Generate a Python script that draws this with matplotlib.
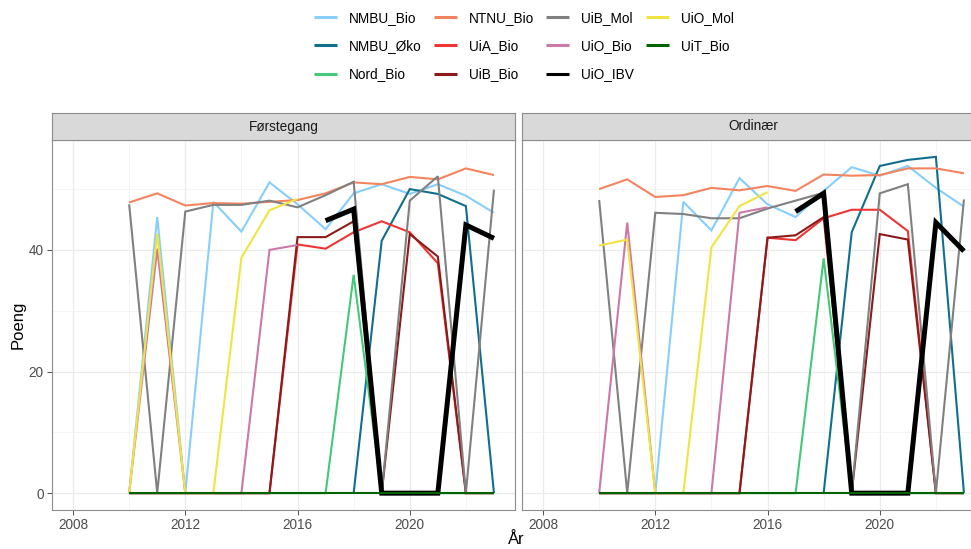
import numpy as np
import matplotlib
matplotlib.use("Agg")
import matplotlib.pyplot as plt

plt.rcParams['font.family'] = ['Liberation Sans', 'DejaVu Sans']

nan = np.nan
years = list(range(2010, 2024))
facets = ["Førstegang", "Ordinær"]
programs = ["NMBU_Bio", "NMBU_Øko", "Nord_Bio", "NTNU_Bio", "UiA_Bio", "UiB_Bio",
            "UiB_Mol", "UiO_Bio", "UiO_IBV", "UiO_Mol", "UiT_Bio"]
colors = ["#87CEFA", "#106F8C", "#43C979", "#F4845F", "#EF3434", "#8B1A1A",
          "#808080", "#CC79A7", "#000000", "#F0E442", "#006400"]

# Førstegang
f_nmbu_bio = [0, 45.4, 0, 47.9, 43.0, 51.1, 47.5, 43.4, 49.3, 50.8, 49.2, 50.8, 48.9, 46.1]
f_nmbu_oko = [nan] * 8 + [0, 41.5, 50.0, 49.2, 47.2, 0]
f_nord_bio = [0] * 8 + [35.9] + [0] * 5
f_ntnu_bio = [47.8, 49.3, 47.3, 47.7, 47.6, 47.9, 48.2, 49.3, 51.1, 50.8, 52.0, 51.6, 53.4, 52.3]
f_uia_bio = [0] * 6 + [40.9, 40.2, 42.9, 44.7, 42.9, 37.8, 0, 0]
f_uib_bio = [0] * 6 + [42.1, 42.1, 44.7, 0, 42.6, 38.9, 0, 0]
f_uib_mol = [47.5, 0, 46.3, 47.4, 47.4, 48.1, 47.0, 49.0, 51.2, 0, 48.1, 52.1, 0, 49.9]
f_uio_bio = [0, 40.2, 0, 0, 0, 40.0, 40.8] + [nan] * 7
f_uio_ibv = [nan] * 7 + [44.8, 46.7, 0, 0, 0, 44.1, 41.9]
f_uio_mol = [0, 42.7, 0, 0, 38.7, 46.5, 48.4] + [nan] * 7
f_uit_bio = [0] * 14

# Ordinær
o_nmbu_bio = [0, 0, 0, 47.9, 43.2, 51.8, 47.5, 45.4, 49.7, 53.6, 52.2, 53.8, 50.2, 47.1]
o_nmbu_oko = [nan] * 8 + [0, 42.9, 53.8, 54.8, 55.3, 0]
o_nord_bio = [0] * 8 + [38.6] + [0] * 5
o_ntnu_bio = [50.0, 51.6, 48.7, 49.0, 50.2, 49.8, 50.5, 49.7, 52.4, 52.2, 52.3, 53.4, 53.4, 52.6]
o_uia_bio = [0] * 6 + [42.0, 41.6, 45.2, 46.6, 46.6, 43.1, 0, 0]
o_uib_bio = [0] * 6 + [42.0, 42.4, 45.4, 0, 42.6, 41.7, 0, 0]
o_uib_mol = [48.2, 0, 46.1, 45.9, 45.2, 45.2, 46.8, 48.1, 49.4, 0, 49.3, 50.8, 0, 48.3]
o_uio_bio = [0, 44.5, 0, 0, 0, 46.1, 47.0] + [nan] * 7
o_uio_ibv = [nan] * 7 + [46.3, 49.3, 0, 0, 0, 44.5, 39.8]
o_uio_mol = [40.7, 41.7, 0, 0, 40.4, 47.2, 49.5] + [nan] * 7
o_uit_bio = [0] * 14

data = {
    "Førstegang": [f_nmbu_bio, f_nmbu_oko, f_nord_bio, f_ntnu_bio, f_uia_bio, f_uib_bio,
                   f_uib_mol, f_uio_bio, f_uio_ibv, f_uio_mol, f_uit_bio],
    "Ordinær": [o_nmbu_bio, o_nmbu_oko, o_nord_bio, o_ntnu_bio, o_uia_bio, o_uib_bio,
                o_uib_mol, o_uio_bio, o_uio_ibv, o_uio_mol, o_uit_bio],
}

W, H = 971, 549
fig = plt.figure(figsize=(W / 100, H / 100), dpi=100)
fig.patch.set_facecolor("white")

panel_x = [(52, 515), (522, 985)]
ptop, pbot = 140, 510
strip_top = 113

axes = []
for i, facet in enumerate(facets):
    x0, x1 = panel_x[i]
    ax = fig.add_axes([x0 / W, 1 - pbot / H, (x1 - x0) / W, (pbot - ptop) / H])
    axes.append(ax)
    ax.set_xlim(2007.25, 2023.75)
    ax.set_ylim(-2.77, 58.07)
    ax.set_xticks([2008, 2012, 2016, 2020])
    ax.set_xticks([2010, 2014, 2018, 2022], minor=True)
    ax.set_yticks([0, 20, 40])
    ax.set_yticks([10, 30, 50], minor=True)
    ax.grid(which="major", color="#EBEBEB", linewidth=0.9)
    ax.grid(which="minor", color="#F2F2F2", linewidth=0.55)
    ax.set_axisbelow(True)
    ax.tick_params(which="major", length=3.5, width=0.6, color="#333333",
                   labelsize=9.8, labelcolor="#4D4D4D", pad=2.5)
    ax.tick_params(which="minor", length=0)
    for s in ax.spines.values():
        s.set_color("#8C8C8C")
        s.set_linewidth(0.8)
    if i == 1:
        ax.tick_params(axis="y", labelleft=False, length=0)

    for name, col, vals in zip(programs, colors, data[facet]):
        lw = 3.6 if name == "UiO_IBV" else 1.5
        ax.plot(years, vals, color=col, linewidth=lw, label=name,
                solid_joinstyle="miter", solid_capstyle="butt")

    # strip
    sax = fig.add_axes([x0 / W, 1 - ptop / H, (x1 - x0) / W, (ptop - strip_top) / H])
    sax.set_xticks([])
    sax.set_yticks([])
    sax.set_facecolor("#D9D9D9")
    for s in sax.spines.values():
        s.set_color("#8C8C8C")
        s.set_linewidth(0.8)
    sax.text(0.5, 0.5, facet, ha="center", va="center", fontsize=9.8, color="#1A1A1A",
             transform=sax.transAxes)

fig.text(18 / W, 1 - 325 / H, "Poeng", rotation=90, ha="center", va="center",
         fontsize=12, color="black")
fig.text(516 / W, 1 - 540 / H, "År", ha="center", va="center", fontsize=12, color="black")

handles, labels = axes[0].get_legend_handles_labels()
leg = fig.legend(handles, labels, ncol=4, loc="center", bbox_to_anchor=(524 / W, 1 - 46 / H),
                 frameon=False, fontsize=9.8, handlelength=1.65, handletextpad=0.9,
                 columnspacing=0.9, labelspacing=1.05)
for lh in leg.get_lines():
    lh.set_linewidth(2.2)

fig.savefig("out.png", dpi=100)
